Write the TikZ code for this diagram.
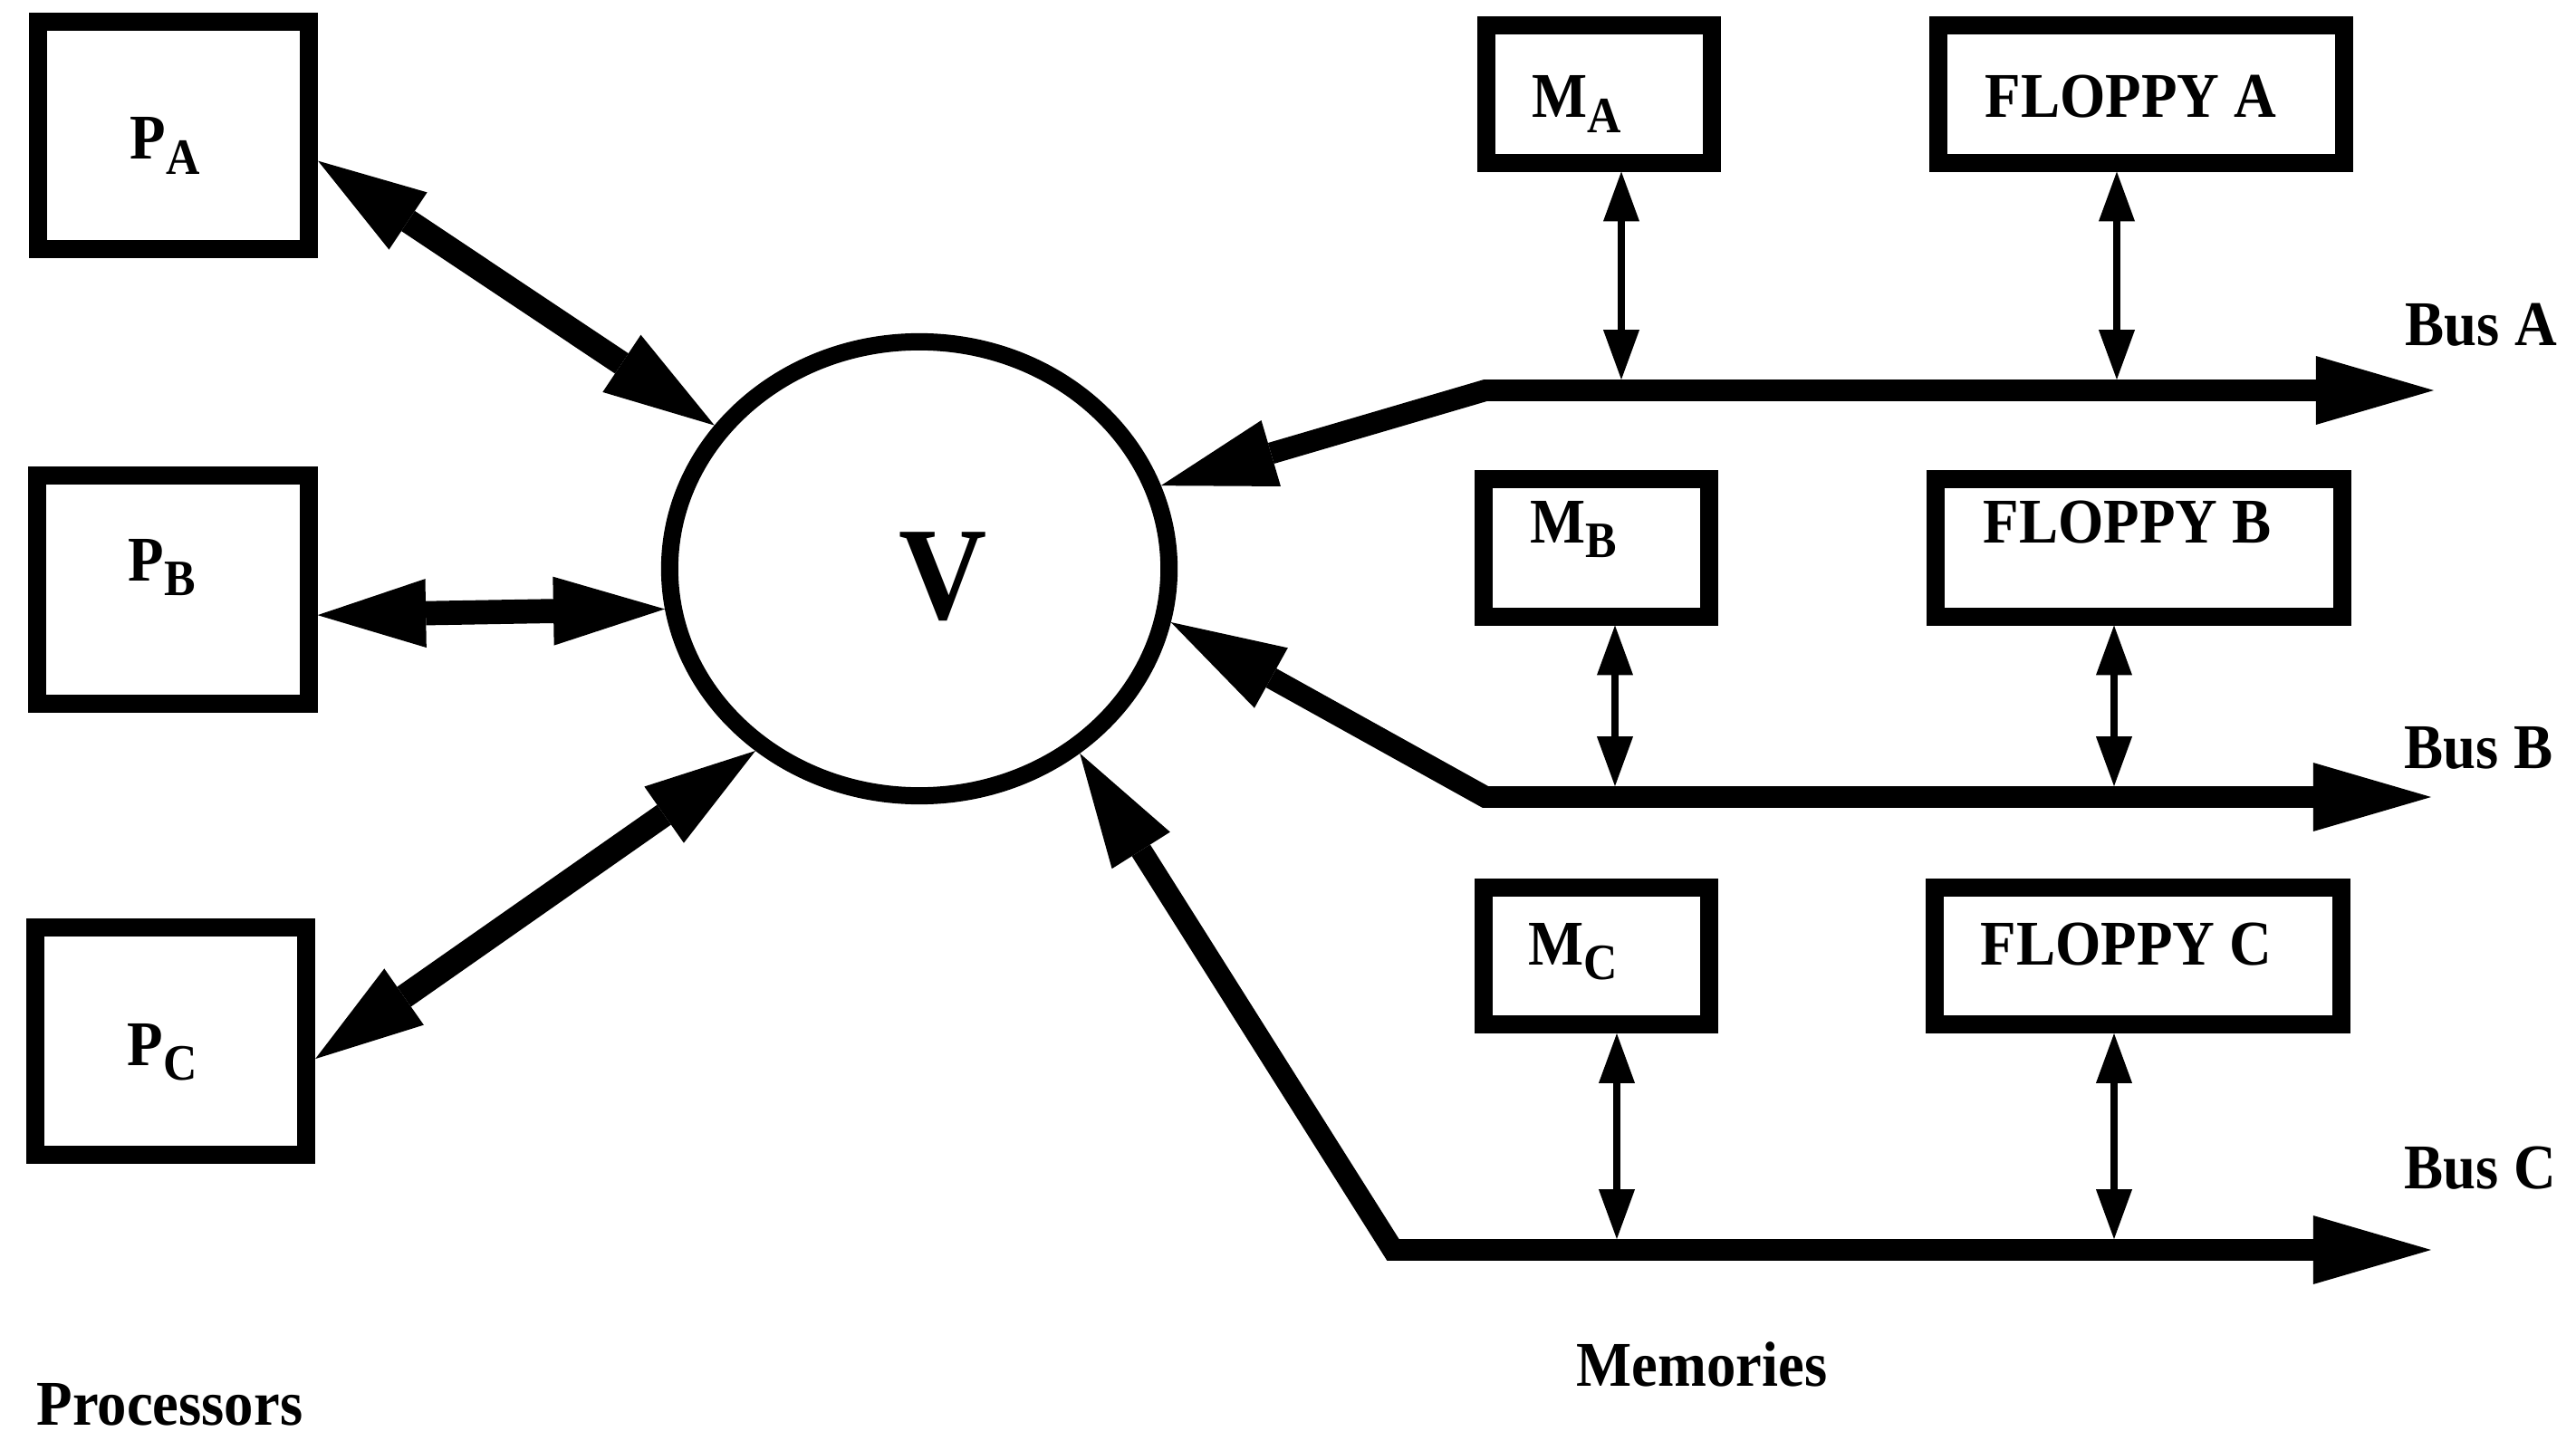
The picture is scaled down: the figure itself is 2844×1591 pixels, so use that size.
\documentclass[tikz,border=0pt]{standalone}
\usepackage{fontspec}
\setmainfont{Liberation Serif}[FakeStretch=0.92]
\usetikzlibrary{arrows.meta,shapes.geometric}
% lowered, smaller index letter used in the unit names
\newcommand\lowsub[1]{\raisebox{-0.24em}{\fontsize{16pt}{16pt}\selectfont #1}}
\begin{document}
\begin{tikzpicture}[x=0.01cm,y=-0.01cm,
  unit/.style={draw, rectangle, line width=5.7pt, inner sep=0pt},
  procbox/.style={unit, minimum width=2.99cm, minimum height=2.51cm},
  membox/.style={unit, minimum width=2.48cm, minimum height=1.51cm},
  flopbox/.style={unit, minimum width=4.48cm, minimum height=1.51cm},
  lbl/.style={anchor=base west, inner sep=0pt, font=\fontsize{20pt}{20pt}\selectfont\bfseries},
  duplex/.style={line width=7.6pt,
    {Triangle[length=34pt,width=21.6pt,line width=0pt]}-{Triangle[length=35pt,width=21.6pt,line width=0pt]}},
  busline/.style={line width=6.8pt,
    {Triangle[length=36pt,width=21.6pt,line width=0pt]}-{Triangle[length=37pt,width=21.6pt,line width=0pt]}},
  tap/.style={line width=2.3pt,
    {Triangle[length=15.6pt,width=11.4pt,line width=0pt]}-{Triangle[length=15.6pt,width=11.4pt,line width=0pt]}}]

\useasboundingbox (0,0) rectangle (2844,1591);

% processors
\node[procbox] (pa) at (191.5,149.5) {};
\node[procbox] (pb) at (191,651) {};
\node[procbox] (pc) at (188.5,1149.5) {};
\node[lbl] (tpa) at (143,176) {P\lowsub{A}};
\node[lbl] (tpb) at (141,641) {P\lowsub{B}};
\node[lbl] (tpc) at (140,1176) {P\lowsub{C}};
\node[lbl] (tproc) at (40,1573) {Processors};

% switch
\node[draw, ellipse, line width=5.4pt, inner sep=0pt,
      minimum width=5.51cm, minimum height=5.01cm] (v) at (1015,628) {};
\node[anchor=base west, inner sep=0pt,
      font=\fontsize{41.6pt}{42pt}\selectfont\bfseries] (tv) at (992,683) {V};

% memories and floppies
\node[membox] (ma) at (1765.5,104) {};
\node[membox] (mb) at (1762.5,605) {};
\node[membox] (mc) at (1762.5,1055.5) {};
\node[flopbox] (fa) at (2364,104) {};
\node[flopbox] (fb) at (2361.5,605) {};
\node[flopbox] (fc) at (2360.5,1055.5) {};
\node[lbl] (tma) at (1691,130) {M\lowsub{A}};
\node[lbl] (tmb) at (1689,599) {M\lowsub{B}};
\node[lbl] (tmc) at (1687,1065) {M\lowsub{C}};
\node[lbl] (tfa) at (2191,130) {FLOPPY A};
\node[lbl] (tfb) at (2189,599) {FLOPPY B};
\node[lbl] (tfc) at (2186,1065) {FLOPPY C};
\node[lbl] (tmem) at (1740,1530) {Memories};

% bus labels
\node[lbl] (tba) at (2655,382) {Bus A};
\node[lbl] (tbb) at (2654,848) {Bus B};
\node[lbl] (tbc) at (2654,1312) {Bus C};

% processor links
\draw[duplex] (pa.-10.5) -- (v.145.6);
\draw[duplex] (pb.-10) -- (v.189.9);
\draw[duplex] (pc.-7.7) -- (v.228.6);

% buses
\coordinate (bendA) at (1640,431);
\coordinate (endA) at (2687,431);
\coordinate (bendB) at (1640,880);
\coordinate (endB) at (2684,880);
\coordinate (bendC) at (1538,1380);
\coordinate (endC) at (2684,1380);
\draw[busline] (v.19.4) -- (bendA) -- (endA);
\draw[busline] (v.348.4) -- (bendB) -- (endB);
\draw[busline] (v.311.2) -- (bendC) -- (endC);

% taps onto the buses
\coordinate (ta1) at (1790,419);
\coordinate (ta2) at (2337,419);
\coordinate (tb1) at (1783,868);
\coordinate (tb2) at (2334,868);
\coordinate (tc1) at (1785,1368);
\coordinate (tc2) at (2334,1368);
\draw[tap] (ta1 |- ma.south) -- (ta1);
\draw[tap] (ta2 |- fa.south) -- (ta2);
\draw[tap] (tb1 |- mb.south) -- (tb1);
\draw[tap] (tb2 |- fb.south) -- (tb2);
\draw[tap] (tc1 |- mc.south) -- (tc1);
\draw[tap] (tc2 |- fc.south) -- (tc2);
\end{tikzpicture}
\end{document}
